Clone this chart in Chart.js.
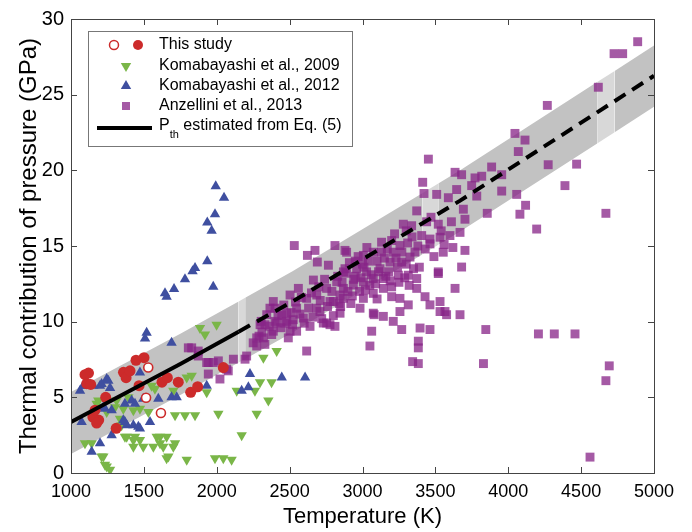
<!DOCTYPE html>
<html>
<head>
<meta charset="utf-8">
<script src="https://cdn.jsdelivr.net/npm/chart.js@4.4.0/dist/chart.umd.min.js"></script>
<style>
  body { margin: 0; background: #fff; }
  #wrap { width: 692px; height: 532px; }
</style>
</head>
<body>
<div id="wrap"><canvas id="myChart" width="692" height="532"></canvas></div>
<script>
var FONT = '"Liberation Sans", Arial, Helvetica, sans-serif';

// axis ticks
var xTicks = [1000, 1500, 2000, 2500, 3000, 3500, 4000, 4500, 5000];
var yTicks = [0, 5, 10, 15, 20, 25, 30];

// This study, filled circles
var studyT = [1096, 1120, 1108, 1135, 1190, 1150, 1176, 1165, 1238, 1310, 1360, 1378, 1405, 1446, 1501, 1467, 1624, 1661, 1736, 1821, 1869, 2045];
var studyP = [6.5, 6.6, 5.9, 5.85, 3.5, 3.7, 3.3, 4.15, 5.0, 2.95, 6.65, 6.3, 6.75, 7.45, 7.62, 5.77, 6.0, 6.3, 6.0, 5.33, 5.7, 6.97];
// This study, open circles
var studyOpenT = [1530, 1515, 1617];
var studyOpenP = [6.97, 4.97, 3.96];

// Komabayashi et al., 2009
var k09T = [1096, 1142, 1176, 1187, 1210, 1222, 1245, 1233, 1268, 1245, 1302, 1313, 1336, 1347, 1359, 1370, 1382, 1393, 1428, 1428, 1439, 1428, 1473, 1473, 1496, 1531, 1553, 1576, 1565, 1588, 1611, 1611, 1633, 1656, 1656, 1668, 1702, 1702, 1714, 1714, 1736, 1782, 1794, 1794, 1828, 1851, 1885, 1919, 1931, 1988, 1999, 2011, 2045, 2102, 2137, 2171, 2262, 2274, 2297, 2320, 2354, 2376, 2411];
var k09P = [1.96, 1.96, 4.57, 4.79, 1.09, 1.09, 0.43, 0.54, 0.22, 4.03, 4.35, 4.79, 3.59, 3.16, 4.25, 2.39, 2.39, 5.0, 2.18, 1.74, 2.39, 4.14, 4.25, 2.18, 1.74, 4.03, 5.77, 5.56, 1.74, 2.39, 2.39, 1.96, 1.74, 2.39, 0.98, 1.09, 1.74, 5.44, 3.81, 1.96, 5.99, 3.81, 0.87, 6.31, 6.42, 3.81, 9.58, 9.15, 5.33, 0.98, 9.8, 3.92, 0.98, 0.87, 5.44, 2.5, 5.44, 3.92, 5.99, 7.62, 4.79, 5.99, 8.06];

// Komabayashi et al., 2012
var k12T = [1993, 2050, 1988, 1935, 1965, 1935, 1851, 1834, 1782, 1707, 1645, 1656, 1976, 1519, 1508, 1690, 1473, 1245, 1199, 1153, 1084, 1062, 1268, 1096, 1210, 1256, 1073, 1142, 1199, 1279, 1359, 1370, 1382, 1428, 1462, 1473, 1542, 1370, 1416, 1439, 1496, 1599, 1690, 1725, 1931, 2171, 2217, 2228, 2446, 2606, 1222, 1233, 1279];
var k12P = [18.95, 18.19, 17.1, 16.55, 16.01, 13.99, 13.55, 13.33, 12.81, 12.16, 11.87, 11.65, 12.3, 9.26, 8.89, 8.6, 6.64, 6.21, 5.77, 5.77, 5.77, 5.44, 5.62, 5.77, 5.88, 6.1, 3.37, 1.41, 1.96, 2.5, 3.48, 3.37, 3.16, 3.16, 3.05, 2.94, 3.37, 4.57, 4.79, 4.57, 4.9, 4.9, 5.0, 5.0, 5.77, 5.44, 5.66, 6.54, 6.31, 6.31, 4.35, 4.25, 4.14];

// Anzellini et al., 2013
var anzT = [1805, 1828, 1873, 1873, 1931, 1942, 1976, 2011, 1942, 2022, 2068, 2079, 2114, 2194, 2205, 2274, 2274, 2290, 2297, 2305, 2320, 2331, 2343, 2365, 2377, 2388, 2388, 2400, 2400, 2411, 2446, 2480, 2480, 2491, 2503, 2503, 2525, 2532, 2548, 2548, 2560, 2594, 2617, 2617, 2622, 2640, 2663, 2674, 2686, 2686, 2690, 2708, 2731, 2754, 2754, 2766, 2777, 2777, 2800, 2811, 2811, 2823, 2846, 2846, 2850, 2869, 2869, 2869, 2880, 2880, 2891, 2920, 2937, 2950, 2950, 2960, 2980, 2983, 3000, 3006, 3006, 3006, 3028, 3030, 3050, 3051, 3063, 3074, 3074, 3074, 3074, 3080, 3100, 3100, 3120, 3131, 3143, 3143, 3143, 3150, 3180, 3189, 3200, 3200, 3200, 3211, 3211, 3220, 3246, 3250, 3257, 3257, 3257, 3269, 3269, 3280, 3300, 3300, 3314, 3314, 3326, 3337, 3344, 3350, 3372, 3372, 3372, 3383, 3383, 3383, 3395, 3406, 3413, 3422, 3429, 3452, 3463, 3463, 3463, 3463, 3509, 3520, 3520, 3520, 3532, 3532, 3532, 3554, 3566, 3577, 3589, 3600, 3635, 3635, 3646, 3669, 3669, 3680, 3680, 3692, 3703, 3703, 3749, 3772, 3784, 3818, 3830, 3846, 3856, 3886, 3955, 3955, 4046, 4058, 4069, 4080, 4115, 4119, 4195, 4207, 4268, 4274, 4316, 4389, 4458, 4469, 4561, 4618, 4670, 4670, 4693, 4726, 4785, 4888,
            2250, 2310, 2330, 2360, 2420, 2440, 2460, 2470, 2510, 2520, 2540, 2570, 2580, 2600, 2630, 2650, 2660, 2700, 2710, 2720, 2740, 2760, 2790, 2800, 2830, 2840, 2860, 2890, 2900, 2910, 2930, 2940, 2970, 2990, 3010, 3020, 3040, 3060, 3090, 3110, 3130, 3160, 3170, 3190, 3230, 3240, 3270, 3290, 3310, 3320, 3340, 3360, 3380, 3390, 3430, 3440, 3470, 3490, 3540, 3560, 3610, 3620];
var anzP = [8.27, 8.27, 8.06, 7.73, 7.3, 7.3, 7.3, 7.41, 6.54, 6.21, 6.86, 6.75, 7.52, 7.52, 7.73, 8.39, 8.93, 9.04, 9.8, 10.02, 8.93, 9.8, 10.46, 10.89, 9.15, 9.37, 11.33, 10.02, 10.89, 9.91, 10.46, 10.02, 10.56, 8.93, 9.37, 11.76, 10.13, 15.03, 10.89, 9.37, 12.2, 10.24, 11.54, 8.06, 14.38, 9.69, 12.75, 14.71, 11.76, 10.89, 13.94, 10.67, 9.91, 12.2, 9.91, 13.73, 11.33, 9.8, 11.33, 15.03, 9.69, 12.63, 11.76, 10.56, 11.0, 11.54, 13.29, 12.2, 14.71, 13.5, 14.59, 11.2, 12.42, 13.0, 14.0, 13.5, 12.0, 10.89, 13.8, 14.38, 12.63, 11.54, 13.29, 14.9, 12.4, 8.39, 9.37, 14.59, 12.85, 11.87, 10.56, 10.46, 14.0, 11.5, 13.5, 15.25, 12.85, 12.2, 10.35, 14.2, 13.3, 13.94, 15.36, 11.65, 12.3, 14.59, 10.02, 15.8, 13.07, 12.6, 15.03, 11.54, 10.67, 13.94, 9.48, 16.44, 13.8, 16.0, 13.07, 11.11, 14.27, 16.34, 7.36, 13.5, 17.32, 12.85, 12.2, 8.71, 8.27, 7.23, 9.58, 15.69, 19.21, 18.47, 11.65, 20.74, 15.46, 15.14, 11.11, 9.48, 18.41, 16.44, 13.29, 13.18, 15.58, 11.33, 10.67, 14.59, 10.67, 10.46, 18.19, 15.69, 19.87, 12.2, 18.73, 15.9, 10.46, 13.61, 19.71, 17.43, 14.71, 16.77, 18.99, 19.5, 18.3, 19.61, 7.23, 9.48, 17.16, 20.22, 18.63, 19.71, 22.44, 18.41, 21.24, 17.1, 22.0, 17.69, 16.12, 9.19, 24.29, 20.37, 9.19, 18.99, 9.19, 20.41, 1.05, 25.49, 17.16, 6.1, 7.08, 27.71, 27.71, 28.5,
            8.6, 9.3, 8.5, 9.7, 10.4, 9.6, 11.1, 9.9, 10.6, 9.8, 11.3, 10.5, 11.6, 9.9, 10.9, 11.9, 10.3, 12.3, 11.4, 10.2, 12.8, 11.0, 12.0, 10.4, 13.0, 11.2, 12.6, 13.2, 12.0, 13.9, 11.7, 12.8, 14.3, 12.9, 13.6, 12.1, 14.0, 13.1, 12.5, 13.3, 14.6, 13.0, 14.8, 12.7, 14.2, 13.6, 14.6, 12.9, 15.2, 12.4, 15.6, 14.6, 15.0, 13.6, 14.8, 16.6, 16.9, 14.3, 16.0, 15.1, 16.6, 14.9];

// P_th from Eq. (5): solid up to 2150 K, dashed after
var lineT = [1000, 1750, 2150, 2520, 3670, 5000];
var lineP = [3.37, 7.2, 9.34, 11.33, 18.0, 26.25];
var dashFrom = 2150;

// grey uncertainty band
var bandT  = [1000, 1750, 2150, 2195, 2520, 3410, 3520, 3670, 4610, 4730, 5000];
var bandHi = [5.35, 9.2, 11.34, 11.58, 13.33, 18.49, 19.13, 20.0, 25.83, 26.57, 28.25];
var bandLo = [1.25, 5.15, 7.3, 7.53, 9.28, 14.44, 15.08, 15.95, 21.78, 22.52, 24.2];
var lightFrom = [2150, 3410, 4610];

function pts(xs, ys) {
    return xs.map(function(x, i) { return {x: x, y: ys[i]}; });
}

var RED = '#cc2b2b', GREEN = '#7ab648', BLUE = '#3f4fa0', PURPLE = 'rgba(135, 35, 135, 0.75)';

// box + inward ticks, matlab style
var frame = {
    id: 'frame',
    afterDatasetsDraw: function(chart) {
        var ctx = chart.ctx, a = chart.chartArea;
        var xs = chart.scales.x, ys = chart.scales.y;
        ctx.save();
        ctx.strokeStyle = '#444';
        ctx.lineWidth = 1;
        ctx.strokeRect(a.left + 0.5, a.top + 0.5, a.right - a.left, a.bottom - a.top);
        ctx.beginPath();
        xTicks.forEach(function(t) {
            var px = Math.round(xs.getPixelForValue(t)) + 0.5;
            ctx.moveTo(px, a.bottom); ctx.lineTo(px, a.bottom - 6);
            ctx.moveTo(px, a.top); ctx.lineTo(px, a.top + 6);
        });
        yTicks.forEach(function(t) {
            var py = Math.round(ys.getPixelForValue(t)) + 0.5;
            ctx.moveTo(a.left, py); ctx.lineTo(a.left + 6, py);
            ctx.moveTo(a.right, py); ctx.lineTo(a.right - 6, py);
        });
        ctx.stroke();
        ctx.restore();
    }
};

var legendBox = {
    id: 'legendBox',
    afterDraw: function(chart) {
        var ctx = chart.ctx;
        ctx.save();
        ctx.fillStyle = '#fff';
        ctx.fillRect(88, 31, 265, 116);
        ctx.strokeStyle = '#777';
        ctx.lineWidth = 1;
        ctx.strokeRect(88.5, 31.5, 264, 115);

        var mx = 126, tx = 159;
        var rows = [45, 66, 86, 106, 128];

        // this study: open + filled circle
        ctx.beginPath(); ctx.arc(114, rows[0], 4.5, 0, 2 * Math.PI);
        ctx.fillStyle = '#fff'; ctx.fill();
        ctx.strokeStyle = RED; ctx.lineWidth = 1.5; ctx.stroke();
        ctx.beginPath(); ctx.arc(138, rows[0], 5, 0, 2 * Math.PI);
        ctx.fillStyle = RED; ctx.fill();

        // down triangle
        ctx.fillStyle = GREEN;
        ctx.beginPath();
        ctx.moveTo(mx - 5.2, rows[1] - 3); ctx.lineTo(mx + 5.2, rows[1] - 3); ctx.lineTo(mx, rows[1] + 6);
        ctx.closePath(); ctx.fill();

        // up triangle
        ctx.fillStyle = BLUE;
        ctx.beginPath();
        ctx.moveTo(mx - 5.2, rows[2] + 3); ctx.lineTo(mx + 5.2, rows[2] + 3); ctx.lineTo(mx, rows[2] - 6);
        ctx.closePath(); ctx.fill();

        // square
        ctx.fillStyle = PURPLE;
        ctx.fillRect(mx - 4, rows[3] - 4, 8, 8);

        // line
        ctx.strokeStyle = '#000'; ctx.lineWidth = 4;
        ctx.beginPath(); ctx.moveTo(97, rows[4]); ctx.lineTo(152, rows[4]); ctx.stroke();

        ctx.fillStyle = '#000';
        ctx.textBaseline = 'middle';
        ctx.font = '16px ' + FONT;
        ctx.fillText('This study', tx, rows[0]);
        ctx.fillText('Komabayashi et al., 2009', tx, rows[1]);
        ctx.fillText('Komabayashi et al., 2012', tx, rows[2]);
        ctx.fillText('Anzellini et al., 2013', tx, rows[3]);
        ctx.fillText('P', tx, rows[4] - 2);
        var pw = ctx.measureText('P').width;
        ctx.font = '11px ' + FONT;
        ctx.fillText('th', tx + pw, rows[4] + 7);
        var sw = ctx.measureText('th').width;
        ctx.font = '16px ' + FONT;
        ctx.fillText(' estimated from Eq. (5)', tx + pw + sw, rows[4] - 2);
        ctx.restore();
    }
};

var ctx = document.getElementById('myChart');
var myChart = new Chart(ctx, {
    type: 'scatter',
    data: {
        datasets: [
            {
                label: 'Pth line',
                data: pts(lineT, lineP),
                showLine: true,
                borderColor: '#000',
                borderWidth: 4,
                borderCapStyle: 'butt',
                pointRadius: 0,
                fill: false,
                order: 0,
                segment: {
                    borderDash: function(c) { return c.p0.parsed.x >= dashFrom ? [13, 8] : undefined; }
                }
            },
            {
                label: 'This study open',
                data: pts(studyOpenT, studyOpenP),
                pointStyle: 'circle',
                pointRadius: 4.5,
                backgroundColor: '#fff',
                borderColor: RED,
                borderWidth: 1.6,
                order: 1
            },
            {
                label: 'This study',
                data: pts(studyT, studyP),
                pointStyle: 'circle',
                pointRadius: 5.5,
                backgroundColor: RED,
                borderWidth: 0,
                order: 2
            },
            {
                label: 'Komabayashi et al., 2012',
                data: pts(k12T, k12P),
                pointStyle: 'triangle',
                pointRadius: 6,
                backgroundColor: BLUE,
                borderWidth: 0,
                order: 3
            },
            {
                label: 'Komabayashi et al., 2009',
                data: pts(k09T, k09P),
                pointStyle: 'triangle',
                rotation: 180,
                pointRadius: 6,
                backgroundColor: GREEN,
                borderWidth: 0,
                order: 4
            },
            {
                label: 'Anzellini et al., 2013',
                data: pts(anzT, anzP),
                pointStyle: 'rect',
                pointRadius: 6.3,
                backgroundColor: PURPLE,
                borderWidth: 0,
                order: 5
            },
            {
                label: 'band hi',
                data: pts(bandT, bandHi),
                showLine: true,
                borderWidth: 0,
                pointRadius: 0,
                backgroundColor: '#c2c2c2',
                fill: '+1',
                order: 6,
                segment: {
                    backgroundColor: function(c) { return lightFrom.indexOf(c.p0.parsed.x) >= 0 ? '#d8d8d8' : undefined; }
                }
            },
            {
                label: 'band lo',
                data: pts(bandT, bandLo),
                showLine: true,
                borderWidth: 0,
                pointRadius: 0,
                fill: false,
                order: 7
            }
        ]
    },
    options: {
        responsive: false,
        animation: false,
        layout: { padding: { top: 14, right: 38, left: 0, bottom: 0 } },
        plugins: {
            legend: { display: false },
            tooltip: { enabled: false }
        },
        scales: {
            x: {
                type: 'linear',
                min: 1000,
                max: 5000,
                afterFit: function(s) { s.height = 59; },
                afterBuildTicks: function(s) { s.ticks = xTicks.map(function(v) { return {value: v}; }); },
                grid: { display: false, drawTicks: false },
                border: { display: false },
                ticks: {
                    color: '#000', font: { family: FONT, size: 18 }, padding: 8, maxRotation: 0,
                    callback: function(v) { return String(v); }
                },
                title: {
                    display: true,
                    text: 'Temperature (K)',
                    color: '#000',
                    font: { family: FONT, size: 22, lineHeight: 1 },
                    padding: { top: 0, bottom: 4 }
                }
            },
            y: {
                type: 'linear',
                min: 0,
                max: 30,
                afterFit: function(s) { s.width = 71; },
                afterBuildTicks: function(s) { s.ticks = yTicks.map(function(v) { return {value: v}; }); },
                grid: { display: false, drawTicks: false },
                border: { display: false },
                ticks: {
                    color: '#000', font: { family: FONT, size: 20 }, padding: 7,
                    callback: function(v) { return String(v); }
                },
                title: {
                    display: true,
                    text: 'Thermal contribution of pressure (GPa)',
                    color: '#000',
                    font: { family: FONT, size: 24, lineHeight: 1 },
                    padding: { top: 17, bottom: 0 }
                }
            }
        }
    },
    plugins: [frame, legendBox]
});
</script>
</body>
</html>
